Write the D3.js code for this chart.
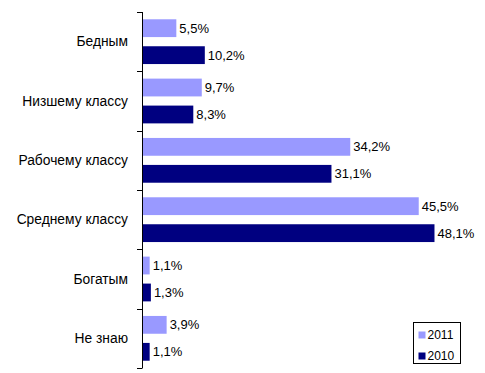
<!DOCTYPE html>
<html>
<head>
<meta charset="utf-8">
<script src="https://cdn.jsdelivr.net/npm/d3@7"></script>
<style>
  body { margin: 0; background: #fff; }
  text { font-family: "Liberation Sans", Arial, sans-serif; }
</style>
</head>
<body>
<div id="chart"></div>
<script>
// Данные из картинки
const categories = ["Бедным", "Низшему классу", "Рабочему классу", "Среднему классу", "Богатым", "Не знаю"];
const series = ["2011", "2010"];
const values2011 = [5.5, 9.7, 34.2, 45.5, 1.1, 3.9];
const values2010 = [10.2, 8.3, 31.1, 48.1, 1.3, 1.1];
const colors = ["#9999ff", "#000080"];

const W = 485, H = 373;
const margin = { top: 12, right: 39, bottom: 5, left: 143 };
const width = W - margin.left - margin.right;
const height = H - margin.top - margin.bottom;

const data = categories.map((c, i) => ({ category: c, vals: [values2011[i], values2010[i]] }));

const svg = d3.select("#chart").append("svg")
    .attr("width", W)
    .attr("height", H);

const g = svg.append("g")
    .attr("transform", `translate(${margin.left}, ${margin.top})`);

// Шкалы
const x = d3.scaleLinear().domain([0, 50]).range([0, width]);
const y = d3.scaleBand().domain(categories).range([0, height]);
const y1 = d3.scaleBand().domain(series).range([0, y.bandwidth()]).paddingInner(0.34).paddingOuter(0.27);

const fmt = v => d3.format(".1f")(v).replace(".", ",") + "%";

// Бары
const grp = g.selectAll(".cat")
    .data(data)
    .enter()
    .append("g")
    .attr("transform", d => `translate(0, ${y(d.category)})`);

grp.selectAll("rect")
    .data(d => d.vals.map((v, i) => ({ v, s: series[i], i })))
    .enter()
    .append("rect")
    .attr("x", 0)
    .attr("y", d => y1(d.s))
    .attr("width", d => x(d.v))
    .attr("height", y1.bandwidth())
    .attr("fill", d => colors[d.i]);

grp.selectAll("text.val")
    .data(d => d.vals.map((v, i) => ({ v, s: series[i], i })))
    .enter()
    .append("text")
    .attr("class", "val")
    .attr("x", d => x(d.v) + 3)
    .attr("y", d => y1(d.s) + y1.bandwidth() / 2)
    .attr("dy", "0.35em")
    .attr("font-size", 13)
    .attr("fill", "#000")
    .text(d => fmt(d.v));

// Ось Y
g.append("line")
    .attr("x1", -0.5).attr("x2", -0.5)
    .attr("y1", 0).attr("y2", height)
    .attr("stroke", "#000");

g.selectAll(".tick")
    .data(d3.range(categories.length + 1))
    .enter()
    .append("line")
    .attr("x1", -6).attr("x2", -0.5)
    .attr("y1", i => Math.round(i * y.step()) + 0.5)
    .attr("y2", i => Math.round(i * y.step()) + 0.5)
    .attr("stroke", "#000");

g.selectAll(".cat-label")
    .data(categories)
    .enter()
    .append("text")
    .attr("x", -15)
    .attr("y", d => y(d) + y.bandwidth() / 2)
    .attr("dy", "0.35em")
    .attr("text-anchor", "end")
    .attr("font-size", 13.8)
    .attr("fill", "#000")
    .text(d => d);

// Легенда
const leg = svg.append("g").attr("transform", "translate(413.5, 322.5)");
leg.append("rect")
    .attr("width", 47).attr("height", 41)
    .attr("fill", "#fff").attr("stroke", "#000");

series.forEach((s, i) => {
    leg.append("rect")
        .attr("x", 5).attr("y", 9 + i * 21)
        .attr("width", 7).attr("height", 7)
        .attr("fill", colors[i]);
    leg.append("text")
        .attr("x", 14).attr("y", 12.5 + i * 21)
        .attr("dy", "0.35em")
        .attr("font-size", 12)
        .text(s);
});
</script>
</body>
</html>
